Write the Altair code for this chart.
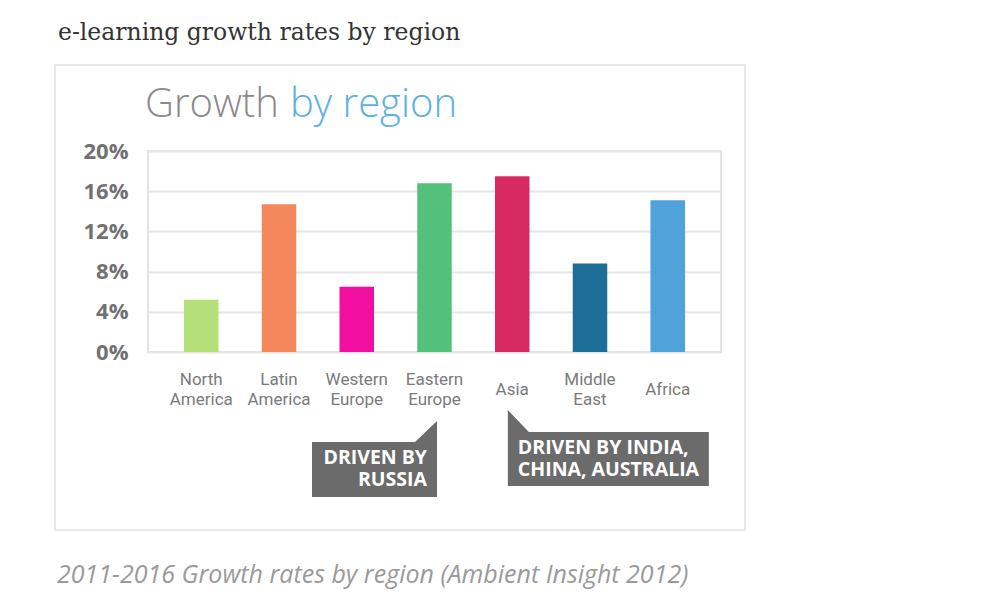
import altair as alt
import pandas as pd

# ---- data ----
regions = ["North America", "Latin America", "Western Europe", "Eastern Europe",
           "Asia", "Middle East", "Africa"]
region_labels = ["North\nAmerica", "Latin\nAmerica", "Western\nEurope", "Eastern\nEurope",
                 "Asia", "Middle\nEast", "Africa"]
growth = [5.2, 14.7, 6.5, 16.8, 17.5, 8.8, 15.1]
bar_colors = ["#b5df78", "#f5885b", "#f10ea0", "#53c07b", "#d72a61", "#1d6e97", "#4fa3da"]
y_ticks = [0, 4, 8, 12, 16, 20]

callout_regions = ["Eastern Europe", "Asia"]
callout_texts = ["DRIVEN BY\nRUSSIA", "DRIVEN BY INDIA,\nCHINA, AUSTRALIA"]

page_title = ["e-learning growth rates by region"]
chart_title_a = ["Growth"]
chart_title_b = ["by region"]
caption = ["2011-2016 Growth rates by region (Ambient Insight 2012)"]

df = pd.DataFrame({"region": regions, "label": region_labels, "growth": growth})
df_call = pd.DataFrame({"region": callout_regions, "text": callout_texts})

x_enc = alt.X("region:N", sort=regions,
              scale=alt.Scale(paddingInner=0.556, paddingOuter=0.463), axis=None)

bars = alt.Chart(df).mark_bar().encode(
    x=x_enc,
    y=alt.Y("growth:Q", scale=alt.Scale(domain=[0, 20], nice=False),
            axis=alt.Axis(values=y_ticks, labelExpr="datum.value + '%'", title=None,
                          ticks=False, domain=False, labelPadding=20,
                          labelFont="Open Sans", labelFontWeight="bold",
                          labelFontSize=22, labelColor="#717171",
                          gridColor="#e6e6e6", gridWidth=2)),
    color=alt.Color("region:N", scale=alt.Scale(domain=regions, range=bar_colors),
                    legend=None),
)

# two-line labels are lifted by half a line so every label block is centred on the same row
xlabels = alt.Chart(df).transform_calculate(
    lift="indexof(datum.label, '\\n') >= 0 ? -10 : 0"
).mark_text(
    font="Roboto", fontWeight=400, fontSize=17, color="#7a7a7a",
    baseline="middle", align="center", lineBreak="\n", lineHeight=20,
).encode(x=x_enc, y=alt.value(239), yOffset=alt.YOffset("lift:Q", scale=None),
         text="label:N")

one = pd.DataFrame({"k": [0]})
frame = alt.Chart(one).mark_rect(fillOpacity=0, stroke="#e2e2e2", strokeWidth=1.5).encode(
    x=alt.value(-93), x2=alt.value(597), y=alt.value(-86), y2=alt.value(379))

t_page = alt.Chart(pd.DataFrame({"t": page_title})).mark_text(
    font="DejaVu Serif", fontSize=23.5, color="#333333", align="left", baseline="alphabetic",
).encode(x=alt.value(-90), y=alt.value(-111), text="t:N")

t_a = alt.Chart(pd.DataFrame({"t": chart_title_a})).mark_text(
    font="Open Sans", fontWeight=300, fontSize=40, color="#8a8a8a", align="left",
    baseline="alphabetic",
).encode(x=alt.value(-3), y=alt.value(-34), text="t:N")

t_b = alt.Chart(pd.DataFrame({"t": chart_title_b})).mark_text(
    font="Open Sans", fontWeight=300, fontSize=40, color="#5bb0e3", align="left",
    baseline="alphabetic",
).encode(x=alt.value(142), y=alt.value(-34), text="t:N")

t_cap = alt.Chart(pd.DataFrame({"t": caption})).mark_text(
    font="Open Sans", fontStyle="italic", fontSize=25, color="#9a9a9a", align="left",
    baseline="alphabetic",
).encode(x=alt.value(-91), y=alt.value(432), text="t:N")

path1 = "M -122.5 0 L -19.5 0 L 2.5 -21 L 2.5 55 L -122.5 55 Z"
path2 = "M -4.4 -22 L 16.6 0 L 196.6 0 L 196.6 54 L -4.4 54 Z"

c1_shape = alt.Chart(df_call).transform_filter(alt.datum.region == callout_regions[0]).mark_point(
    shape=path1, size=4, filled=True, color="#6b6b6b", opacity=1, strokeWidth=0,
).encode(x=x_enc, y=alt.value(291))
c1_text = alt.Chart(df_call).transform_filter(alt.datum.region == callout_regions[0]).mark_text(
    font="Open Sans", fontWeight="bold", fontSize=19.5, color="white", align="right",
    baseline="middle", lineBreak="\n", lineHeight=22, dx=-7.5,
).encode(x=x_enc, y=alt.value(307), text="text:N")

c2_shape = alt.Chart(df_call).transform_filter(alt.datum.region == callout_regions[1]).mark_point(
    shape=path2, size=4, filled=True, color="#6b6b6b", opacity=1, strokeWidth=0,
).encode(x=x_enc, y=alt.value(281))
c2_text = alt.Chart(df_call).transform_filter(alt.datum.region == callout_regions[1]).mark_text(
    font="Open Sans", fontWeight="bold", fontSize=19.5, color="white", align="left",
    baseline="middle", lineBreak="\n", lineHeight=22, dx=5.6,
).encode(x=x_enc, y=alt.value(297), text="text:N")

chart = alt.layer(
    frame, bars, xlabels, t_page, t_a, t_b, t_cap, c1_shape, c1_text, c2_shape, c2_text
).properties(
    width=573, height=201,
    autosize=alt.AutoSizeParams(type="none"),
    padding={"left": 140, "top": 143, "right": 260, "bottom": 245},
    background="white",
).configure_view(stroke="#e3e3e3", strokeWidth=2)

chart.save("out.html", embed_options={"renderer": "svg", "actions": False})
